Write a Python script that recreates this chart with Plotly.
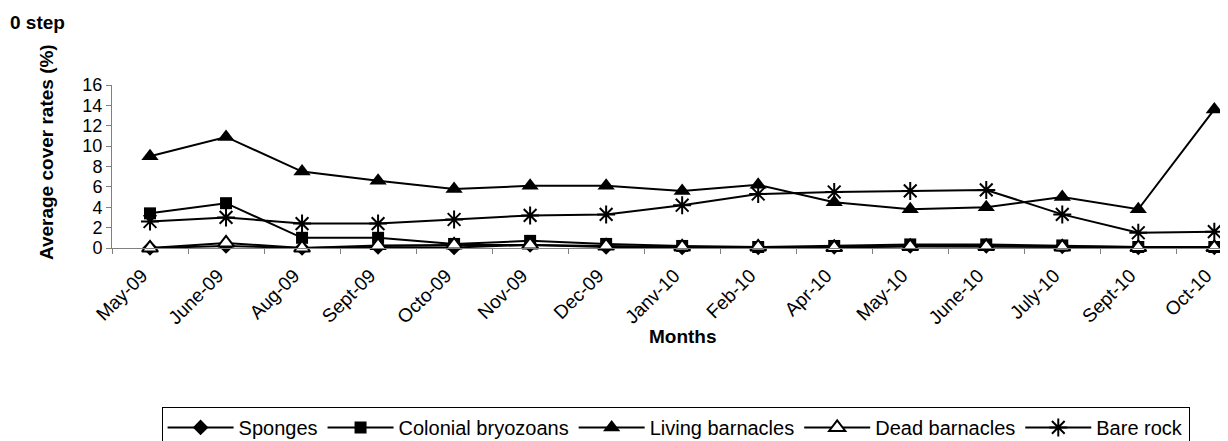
import plotly.graph_objects as go

months = ["May-09", "June-09", "Aug-09", "Sept-09", "Octo-09", "Nov-09", "Dec-09",
          "Janv-10", "Feb-10", "Apr-10", "May-10", "June-10", "July-10", "Sept-10", "Oct-10"]

sponges = [0.0, 0.2, 0.0, 0.1, 0.05, 0.3, 0.1, 0.05, 0.05, 0.1, 0.2, 0.2, 0.15, 0.05, 0.05]
bryozoans = [3.4, 4.4, 1.0, 1.0, 0.4, 0.7, 0.4, 0.2, 0.1, 0.2, 0.35, 0.35, 0.25, 0.1, 0.1]
living_barnacles = [9.0, 10.9, 7.5, 6.6, 5.8, 6.1, 6.1, 5.6, 6.2, 4.5, 3.8, 4.0, 5.0, 3.8, 13.6]
dead_barnacles = [0.0, 0.5, 0.0, 0.25, 0.3, 0.3, 0.2, 0.1, 0.1, 0.05, 0.15, 0.15, 0.1, 0.05, 0.05]
bare_rock = [2.6, 3.0, 2.4, 2.4, 2.8, 3.2, 3.3, 4.2, 5.3, 5.5, 5.6, 5.7, 3.3, 1.5, 1.6]

FONT = "Liberation Sans, Arial, sans-serif"

fig = go.Figure()

series = [
    ("Sponges", sponges, dict(symbol="diamond", size=12, color="black")),
    ("Colonial bryozoans", bryozoans, dict(symbol="square", size=12, color="black")),
    ("Living barnacles", living_barnacles, dict(symbol="triangle-up", size=15, color="black")),
    ("Dead barnacles", dead_barnacles,
     dict(symbol="triangle-up", size=14, color="white", line=dict(color="black", width=2))),
    ("Bare rock", bare_rock,
     dict(symbol="asterisk-open", size=15, color="black", line=dict(color="black", width=2))),
]

for name, vals, marker in series:
    fig.add_trace(
        go.Scatter(
            x=months,
            y=vals,
            mode="lines+markers",
            line=dict(color="black", width=2),
            marker=marker,
            name=name,
            cliponaxis=False,
        )
    )

# the page body adds an 8px margin, so the figure is 8px smaller on each side
fig.update_layout(
    width=1220,
    height=433,
    plot_bgcolor="white",
    paper_bgcolor="white",
    font=dict(family=FONT, color="black"),
    margin=dict(l=104, r=0, t=77, b=193, autoexpand=False),
    showlegend=True,
    legend=dict(
        orientation="h",
        x=0.505, y=-0.975, xanchor="center", yanchor="top",
        bordercolor="black", borderwidth=1,
        font=dict(size=20, family=FONT, color="black"),
        itemwidth=66,
        tracegroupgap=0,
    ),
    annotations=[
        dict(text="<b>0 step</b>", xref="paper", yref="paper",
             x=-0.093, y=1.385, xanchor="left", yanchor="middle",
             showarrow=False, font=dict(size=19, family=FONT)),
        dict(text="<b>Average cover rates (%)</b>", xref="paper", yref="paper",
             x=-0.058, y=0.59, xanchor="center", yanchor="middle", textangle=-90,
             showarrow=False, font=dict(size=19, family=FONT)),
        dict(text="<b>Months</b>", xref="paper", yref="paper",
             x=0.512, y=-0.545, xanchor="center", yanchor="middle",
             showarrow=False, font=dict(size=19, family=FONT)),
    ],
)

fig.update_xaxes(
    type="category",
    range=[-0.5, 14.18],
    tickangle=-45,
    tickfont=dict(size=19, color="black"),
    ticklabelstandoff=8,
    ticklabelshift=-8,
    showgrid=False,
    zeroline=False,
    showline=True,
    linecolor="#808080",
    linewidth=1,
    ticks="outside",
    tickson="boundaries",
    ticklen=5,
    tickcolor="#808080",
    automargin=False,
)

fig.update_yaxes(
    range=[0, 16],
    dtick=2,
    tickfont=dict(size=18, color="black"),
    showgrid=False,
    zeroline=False,
    showline=True,
    linecolor="#808080",
    linewidth=1,
    ticks="outside",
    ticklen=5,
    tickcolor="#808080",
    automargin=False,
)

fig.write_html("out.html")
